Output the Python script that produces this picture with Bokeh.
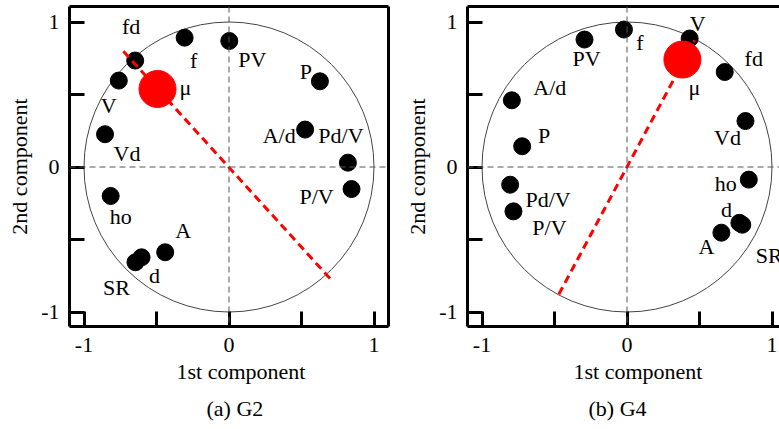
from bokeh.plotting import figure
from bokeh.layouts import row
from bokeh.models import Range1d, LinearAxis, FixedTicker, Span, Title, ColumnDataSource
from bokeh.embed import file_html
from bokeh.resources import INLINE
from bokeh.core.properties import value

# ---------------- data: panel (a) G2 ----------------
a_names = ["fd", "f", "PV", "P", "A/d", "Pd/V", "P/V", "V", "Vd", "ho", "A", "d", "SR"]
a_x = [-0.647, -0.306, 0.002, 0.627, 0.525, 0.820, 0.845, -0.760, -0.855, -0.816, -0.440, -0.603, -0.645]
a_y = [0.734, 0.892, 0.869, 0.591, 0.258, 0.030, -0.152, 0.596, 0.226, -0.200, -0.588, -0.623, -0.657]
a_mu_x = [-0.493]
a_mu_y = [0.538]
a_dir_x = [-0.728, 0.712]
a_dir_y = [0.798, -0.786]

# ---------------- data: panel (b) G4 ----------------
b_names = ["f", "PV", "V", "fd", "A/d", "P", "Vd", "ho", "Pd/V", "P/V", "d", "A", "SR"]
b_x = [-0.021, -0.293, 0.432, 0.674, -0.794, -0.723, 0.817, 0.840, -0.806, -0.783, 0.775, 0.651, 0.795]
b_y = [0.948, 0.879, 0.886, 0.655, 0.460, 0.143, 0.317, -0.087, -0.122, -0.306, -0.385, -0.453, -0.398]
b_mu_x = [0.382]
b_mu_y = [0.741]
b_dir_x = [-0.470, 0.467]
b_dir_y = [-0.878, 0.874]

tick_values = [-1.0, -0.5, 0.0, 0.5, 1.0]
tick_labels = {-1.0: "-1", -0.5: "", 0.0: "0", 0.5: "", 1.0: "1"}

# label pixel offsets (styling only)
a_dx = [-4, 9, 23, -14, -26, -7, -35, -10, 22, 10, 18, 13, -19]
a_dy = [-34, 23, 19, -10, 6, -27, 7, 25, 19, 20, -22, 18, 25]
b_dx = [16, 2, 8, 29, 38, 22, -18, -23, 38, 36, -13, -15, 27]
b_dy = [13, 19, -15, -14, -13, -11, 16, 4, 15, 16, -13, 14, 31]
a_mu_off = (28, -1)
b_mu_off = (12, 28)

GFONT = value("Liberation Serif")
AFONT = "Liberation Serif"
FS = "22px"
H = 429
SCALE = 145.0
TOP = 6
BOTTOM = 103
FRAME_H = H - TOP - BOTTOM


def panel(names, xs, ys, dx, dy, mu_x, mu_y, mu_off, dir_x, dir_y,
          width, bl, br, right_frame, xlab_off, cap_text, cap_off):
    frame_w = width - bl - br
    x0 = -1.1
    x1 = x0 + frame_w / SCALE
    y1 = -1.1 + FRAME_H / SCALE
    p = figure(width=width, height=H, x_range=Range1d(x0, x1), y_range=Range1d(-1.1, y1),
               output_backend="svg", toolbar_location=None,
               x_axis_location=None, y_axis_location=None,
               min_border_left=bl, min_border_right=br, min_border_top=TOP, min_border_bottom=BOTTOM)
    p.outline_line_color = None
    p.xgrid.visible = False
    p.ygrid.visible = False
    p.background_fill_color = "white"

    def styled_axis(**kw):
        return LinearAxis(ticker=FixedTicker(ticks=tick_values), major_label_overrides=tick_labels,
                          major_tick_in=15, major_tick_out=0, minor_tick_in=0, minor_tick_out=0,
                          major_tick_line_width=3, axis_line_width=3,
                          major_label_text_font=AFONT, major_label_text_font_size=FS,
                          major_label_text_color="black", **kw)

    xa = styled_axis(major_label_standoff=11)
    p.add_layout(xa, "below")
    ya = styled_axis(major_label_standoff=10, axis_label="2nd component",
                     axis_label_text_font=AFONT, axis_label_text_font_size=FS,
                     axis_label_text_font_style="normal", axis_label_standoff=6,
                     axis_label_text_color="black")
    p.add_layout(ya, "left")
    top = LinearAxis(ticker=FixedTicker(ticks=[]), major_tick_in=0, major_tick_out=0,
                     minor_tick_in=0, minor_tick_out=0, axis_line_width=3,
                     major_label_text_font_size="0px")
    p.add_layout(top, "above")
    if right_frame:
        rt = LinearAxis(ticker=FixedTicker(ticks=[]), major_tick_in=0, major_tick_out=0,
                        minor_tick_in=0, minor_tick_out=0, axis_line_width=3,
                        major_label_text_font_size="0px")
        p.add_layout(rt, "right")

    p.add_layout(Title(text="1st component", align="left", offset=xlab_off, standoff=5,
                       text_font=AFONT, text_font_size=FS, text_font_style="normal",
                       text_color="black"), "below")
    p.add_layout(Title(text=cap_text, align="left", offset=cap_off, standoff=15,
                       text_font=AFONT, text_font_size=FS, text_font_style="normal",
                       text_color="black"), "below")

    # unit circle and zero lines
    p.ellipse(x=[0], y=[0], width=2, height=2, fill_color=None, line_color="#444444", line_width=1)
    p.add_layout(Span(location=0, dimension="width", line_color="#555555", line_width=1, line_dash="6 4"))
    p.add_layout(Span(location=0, dimension="height", line_color="#555555", line_width=1, line_dash="6 4"))

    src = ColumnDataSource(dict(x=xs, y=ys, name=names, dx=dx, dy=dy))
    p.scatter("x", "y", source=src, size=17, fill_color="black", line_color="black")
    p.line(dir_x, dir_y, line_color="red", line_width=3, line_dash="8 5")
    p.scatter(mu_x, mu_y, size=37, fill_color="red", line_color="red")
    p.text("x", "y", text="name", source=src, x_offset="dx", y_offset="dy",
           text_font=GFONT, text_font_size=FS, text_align="center",
           text_baseline="middle", text_color="black")
    p.text(mu_x, mu_y, text=["μ"], x_offset=mu_off[0], y_offset=mu_off[1],
           text_font=GFONT, text_font_size=FS, text_align="center",
           text_baseline="middle", text_color="black")
    return p


pa = panel(a_names, a_x, a_y, a_dx, a_dy, a_mu_x, a_mu_y, a_mu_off, a_dir_x, a_dir_y,
           width=398, bl=69, br=10, right_frame=True, xlab_off=107, cap_text="(a) G2", cap_off=137)
pb = panel(b_names, b_x, b_y, b_dx, b_dy, b_mu_x, b_mu_y, b_mu_off, b_dir_x, b_dir_y,
           width=381, bl=69, br=0, right_frame=False, xlab_off=106, cap_text="(b) G4", cap_off=121)

layout = row(pa, pb)
open("out.html", "w").write(file_html(layout, INLINE))
